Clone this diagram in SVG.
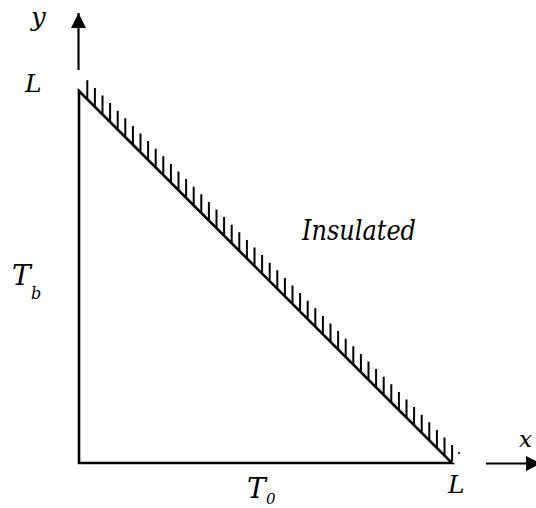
<svg xmlns="http://www.w3.org/2000/svg" width="536" height="508" viewBox="0 0 536 508">
<style>
.ax{stroke:#000;stroke-width:2.2;fill:none}
.edge{stroke:#000;stroke-width:2.6;fill:none;stroke-linecap:square}
.hatch{stroke:#000;stroke-width:2;fill:none}
</style>
<defs>
<marker id="arr" markerWidth="16" markerHeight="16" refX="15" refY="7.5" orient="auto" markerUnits="userSpaceOnUse">
<path d="M0,0 L15,7.5 L0,15 Z" fill="#000"/>
</marker>
</defs>
<rect width="536" height="508" fill="#fff"/>
<g id="connectors">
<line class="ax" x1="78.5" y1="70" x2="78.5" y2="13" marker-end="url(#arr)"/>
<line class="ax" x1="486" y1="463.5" x2="541" y2="463.5" marker-end="url(#arr)"/>
</g>
<g id="triangle">
<path class="edge" d="M79,463 L79,91 L452,463 Z"/>
</g>
<g id="insulation">
<path class="hatch" d="M87.3,80.3 v18 M94.9,87.9 v18 M102.5,95.5 v18 M110.1,103.1 v18 M117.7,110.7 v18 M125.3,118.3 v18 M132.9,125.9 v18 M140.5,133.5 v18 M148.1,141.1 v18 M155.7,148.7 v18 M163.3,156.3 v18 M170.9,163.9 v18 M178.5,171.5 v18 M186.1,179.1 v18 M193.7,186.7 v18 M201.3,194.3 v18 M208.9,201.9 v18 M216.5,209.5 v18 M224.1,217.1 v18 M231.7,224.7 v18 M239.3,232.3 v18 M246.9,239.9 v18 M254.5,247.5 v18 M262.1,255.1 v18 M269.7,262.7 v18 M277.3,270.3 v18 M284.9,277.9 v18 M292.5,285.5 v18 M300.1,293.1 v18 M307.7,300.7 v18 M315.3,308.3 v18 M322.9,315.9 v18 M330.5,323.5 v18 M338.1,331.1 v18 M345.7,338.7 v18 M353.3,346.3 v18 M360.9,353.9 v18 M368.5,361.5 v18 M376.1,369.1 v18 M383.7,376.7 v18 M391.3,384.3 v18 M398.9,391.9 v18 M406.5,399.5 v18 M414.1,407.1 v18 M421.7,414.7 v18 M429.3,422.3 v18 M436.9,429.9 v18 M444.5,437.5 v18 M452.1,445.1 v16"/>
<circle cx="459" cy="453" r="1" fill="#000"/>
</g>
<g id="labels" font-family="DejaVu Serif, Liberation Serif, serif" font-style="italic" fill="#000">
<text x="31" y="26" font-size="26">y</text>
<text x="25" y="92" font-size="25">L</text>
<text x="12" y="285" font-size="28">T</text>
<text x="31" y="299" font-size="16">b</text>
<text x="302" y="240" font-size="27" textLength="114" lengthAdjust="spacingAndGlyphs">Insulated</text>
<text x="247" y="498" font-size="28">T</text>
<text x="266" y="504" font-size="15">0</text>
<text x="448" y="493" font-size="25">L</text>
<text x="519" y="447" font-size="23">x</text>
</g>
</svg>
